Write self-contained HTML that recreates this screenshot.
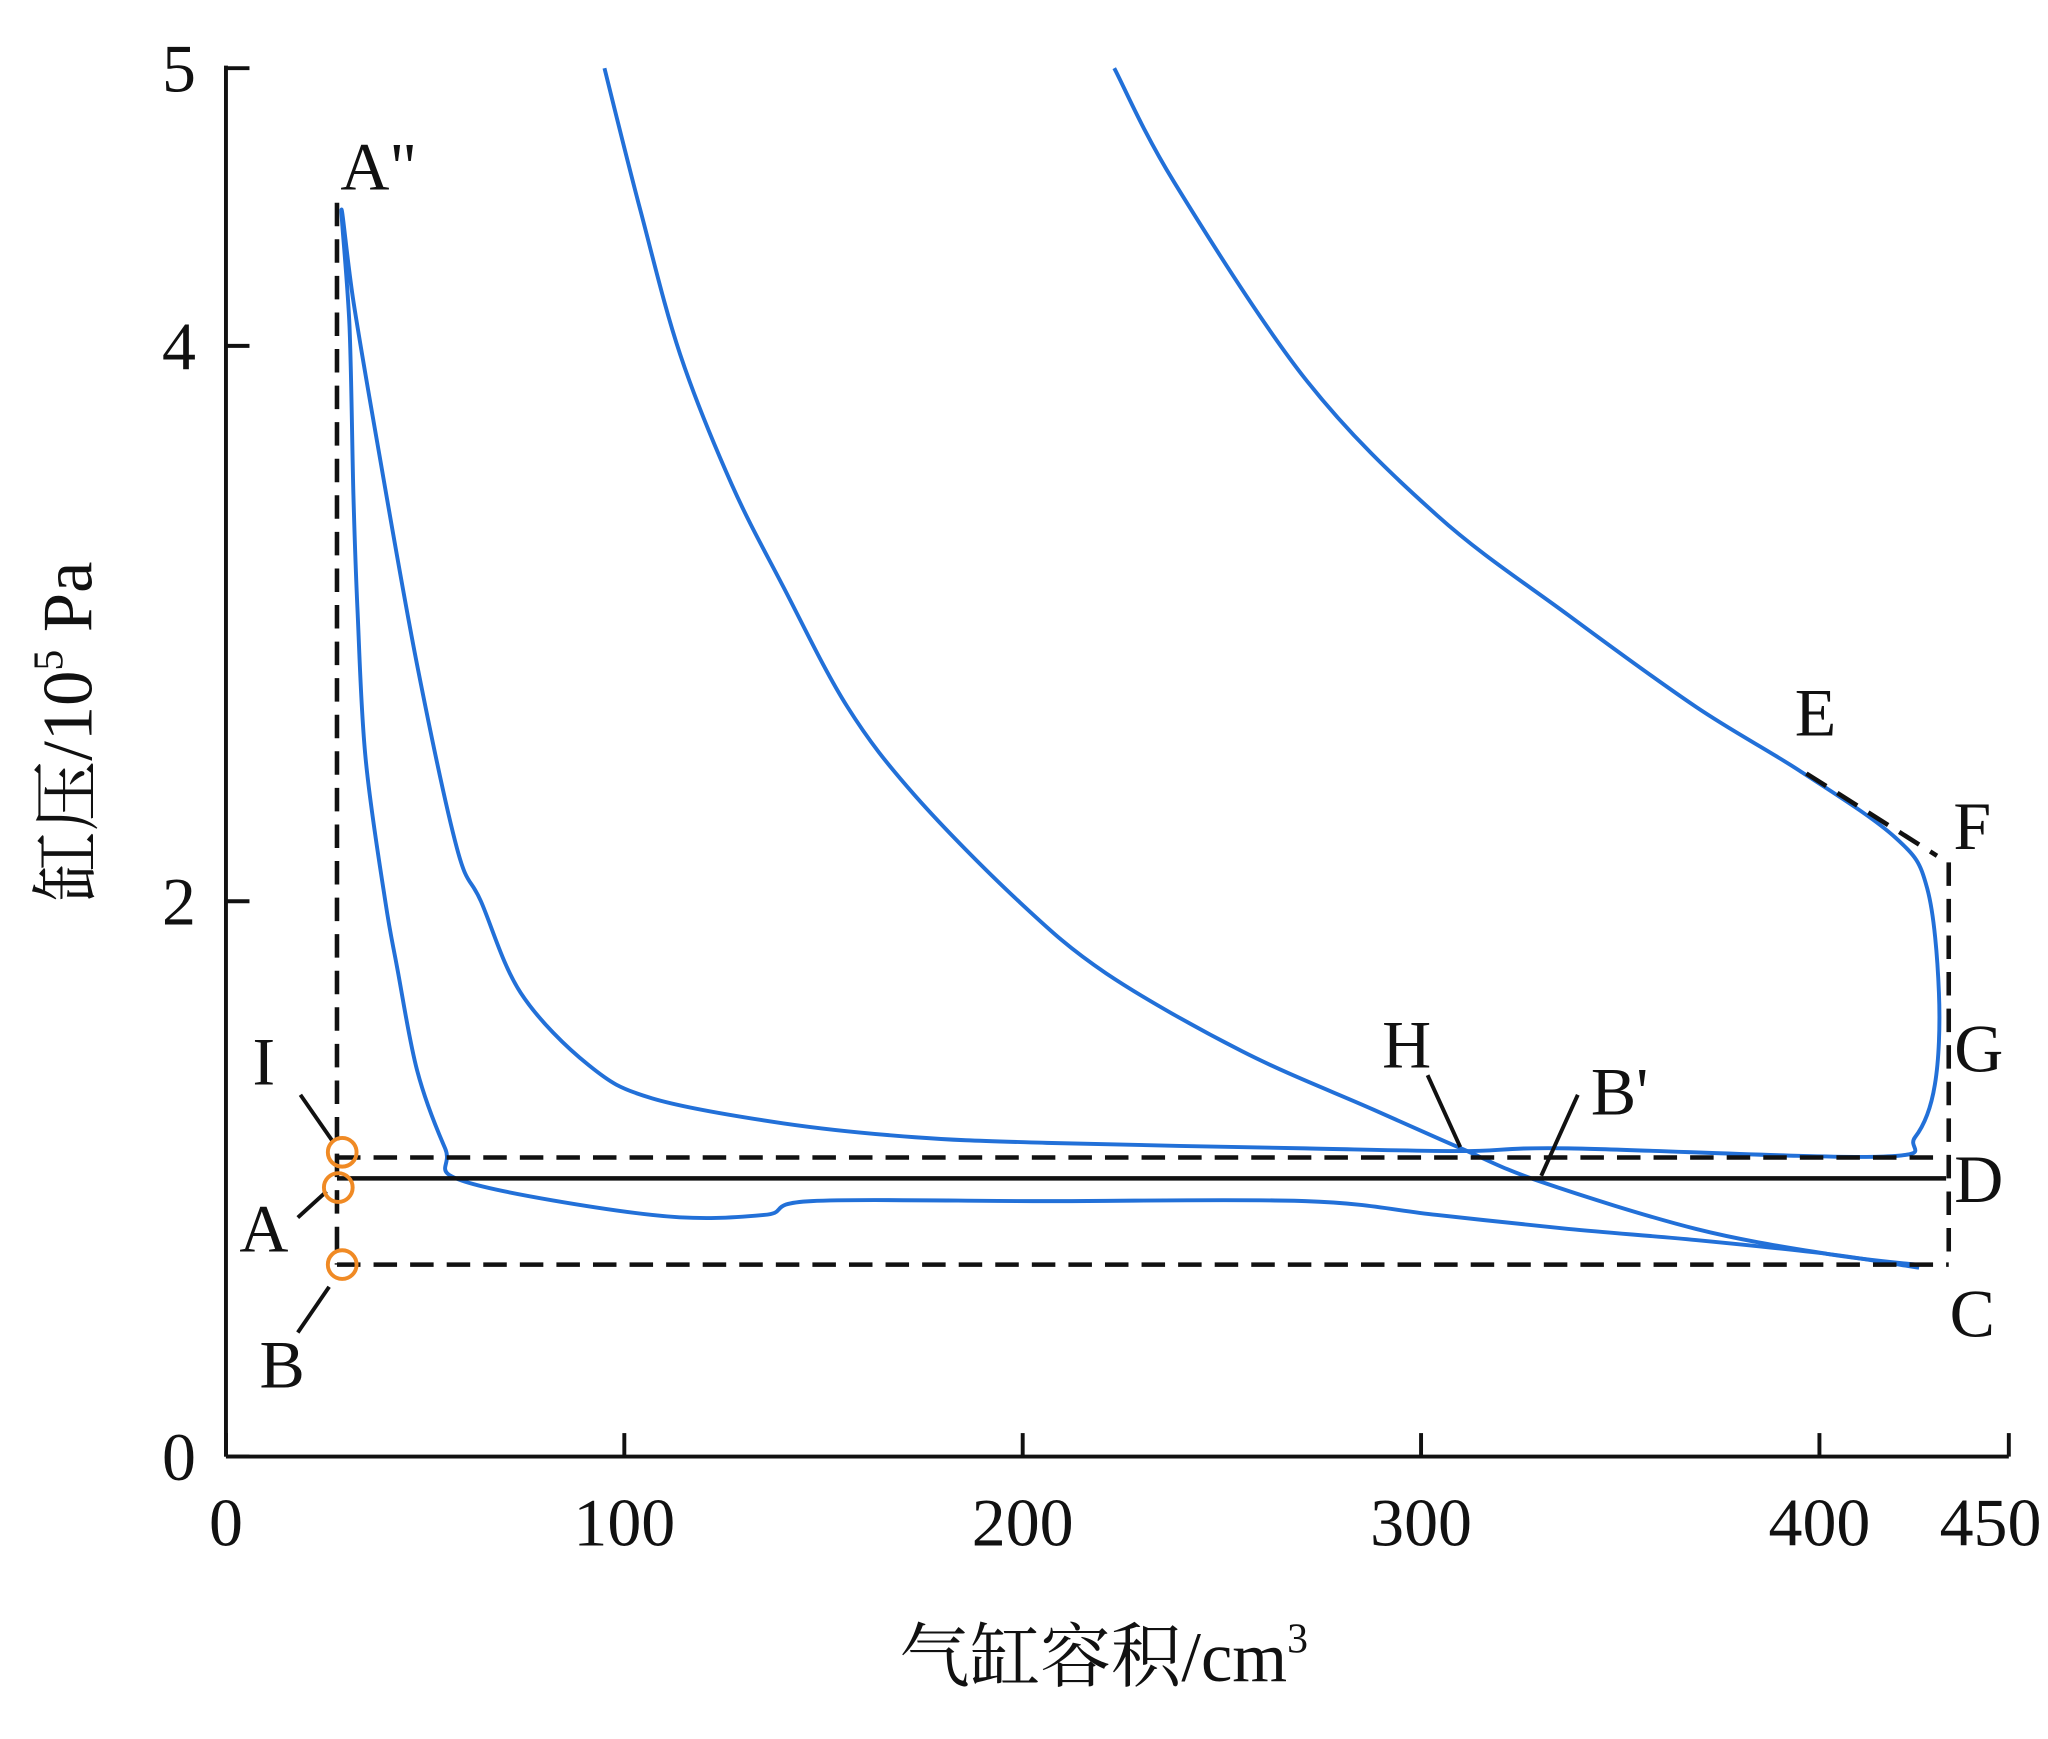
<!DOCTYPE html>
<html><head><meta charset="utf-8"><style>
html,body{margin:0;padding:0;background:#fff}
svg{display:block}
text{font-family:"Liberation Serif","Noto Serif CJK SC",serif;fill:#111}
</style></head><body>
<svg id="chart" width="2048" height="1739" viewBox="0 0 1568 1331" xmlns="http://www.w3.org/2000/svg">
<g id="axes"></g>
<g id="marks"></g>
<g id="ann"></g>
</svg>
<script>
const xTicks=[0,100,200,300,400];
const yTicks=[0,2,4,5];
const loopV=[223,238,271,304,337,369,395,419,427,430,429,424,415,337,310,271,206,173,140,107,91,74,64,58,48,38,32,29,31,32,33,35,40,43,48,55,60,107,135,147,206,271,304,337,369,402,425];
const loopP=[5.0,4.59,3.88,3.39,3.03,2.70,2.47,2.23,2.05,1.67,1.34,1.15,1.08,1.11,1.10,1.11,1.13,1.15,1.20,1.29,1.41,1.67,2.0,2.19,2.85,3.65,4.16,4.49,4.07,3.46,3.06,2.52,2.0,1.76,1.39,1.11,0.99,0.87,0.87,0.92,0.92,0.92,0.87,0.82,0.78,0.73,0.68];
const midV=[95,104,114,127,140,156,173,199,221,255,288,310,330,369,402,425];
const midP=[5.0,4.49,3.97,3.50,3.13,2.70,2.38,2.0,1.74,1.46,1.25,1.11,0.99,0.82,0.73,0.69];
const ns="http://www.w3.org/2000/svg";
const X=v=>173+v*3.05, Y=p=>1115-p*212.6;
function mk(par,tag,at){const e=document.createElementNS(ns,tag);for(const k in at)e.setAttribute(k,at[k]);document.getElementById(par).appendChild(e);return e;}
function txt(par,x,y,s,size,anchor){const t=mk(par,'text',{x:x,y:y,'font-size':size,'text-anchor':anchor||'middle'});t.textContent=s;return t;}
let a=mk('axes','line',{x1:173,y1:1115,x2:1538,y2:1115,stroke:'#111','stroke-width':3});

a=mk('axes','line',{x1:173,y1:1115,x2:173,y2:50,stroke:'#111','stroke-width':3});

xTicks.forEach(v=>{const l=mk('axes','line',{x1:X(v),y1:1115,x2:X(v),y2:1097,stroke:'#111','stroke-width':3});

const t=txt('axes',X(v),1183,String(v),52);
});
let lt=mk('axes','line',{x1:1538,y1:1115,x2:1538,y2:1097,stroke:'#111','stroke-width':3});

let t450=txt('axes',1524,1183,'450',52);

yTicks.forEach(p=>{const l=mk('axes','line',{x1:173,y1:Y(p),x2:191,y2:Y(p),stroke:'#111','stroke-width':3});

const t=txt('axes',150,Y(p)+18,String(p),52,'end');
});
let xt=mk('axes','text',{x:845,y:1287,'font-size':54,'text-anchor':'middle'});xt.innerHTML='气缸容积/cm<tspan dy="-22" font-size="32">3</tspan>';

let yt=mk('axes','text',{x:0,y:0,'font-size':54,'text-anchor':'middle',transform:'translate(70,560) rotate(-90)'});yt.innerHTML='缸压/10<tspan dy="-22" font-size="32">5</tspan><tspan dy="22"> Pa</tspan>';

function path(V,P){const pts=V.map((v,i)=>[X(v),Y(P[i])]);let d='M'+pts[0][0].toFixed(1)+','+pts[0][1].toFixed(1);
for(let i=0;i<pts.length-1;i++){const p0=pts[Math.max(0,i-1)],p1=pts[i],p2=pts[i+1],p3=pts[Math.min(pts.length-1,i+2)];
const c1=[p1[0]+(p2[0]-p0[0])/6,p1[1]+(p2[1]-p0[1])/6],c2=[p2[0]-(p3[0]-p1[0])/6,p2[1]-(p3[1]-p1[1])/6];
d+=' C'+c1.map(n=>n.toFixed(1)).join(',')+' '+c2.map(n=>n.toFixed(1)).join(',')+' '+p2[0].toFixed(1)+','+p2[1].toFixed(1);}
return d;}
let s=mk('marks','path',{d:path(loopV,loopP),fill:'none',stroke:'#2270d8','stroke-width':3,'stroke-linejoin':'round'});

s=mk('marks','path',{d:path(midV,midP),fill:'none',stroke:'#2270d8','stroke-width':3});

const dash={stroke:'#111','stroke-width':3.5,'stroke-dasharray':'18,10',fill:'none'};
function ln(x1,y1,x2,y2,name,d){const l=mk('ann','line',Object.assign({x1:x1,y1:y1,x2:x2,y2:y2},d||{stroke:'#111','stroke-width':3}));}
ln(258,155,258,968,'dashed-left',dash);
ln(258,886,1490,886,'dashed-upper',dash);
ln(258,968,1492,968,'dashed-lower',dash);
ln(1492,660,1492,968,'dashed-right',dash);
ln(1383,592,1483,655,'dashed-ef',dash);
ln(258,902,1490,902,'solid-ambient-line',{stroke:'#111','stroke-width':3.5});
ln(230,838,255,874,'leader-i');ln(228,932,250,912,'leader-a');ln(228,1020,252,985,'leader-b');
ln(1093,823,1118,878,'leader-h');ln(1208,838,1180,900,'leader-bprime');
[[262,882,'circle-i'],[259,909,'circle-a'],[262,968,'circle-b']].forEach(c=>{const e=mk('ann','circle',{cx:c[0],cy:c[1],r:11,fill:'none',stroke:'#f08a24','stroke-width':3});});
[['A"',290,145],['E',1390,563],['F',1510,650],['G',1515,820],['D',1515,920],['C',1510,1023],['H',1077,817],["B'",1240,853],['I',202,830],['A',202,958],['B',216,1062]].forEach(l=>{const t=txt('ann',l[1],l[2],l[0],52);});
</script>
</body></html>
